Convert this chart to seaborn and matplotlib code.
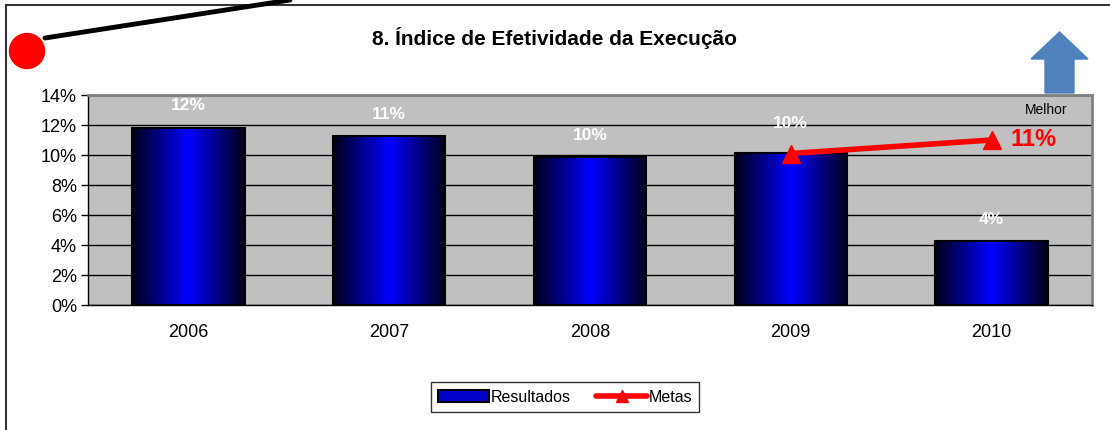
import matplotlib.pyplot as plt
import matplotlib.patches as mpatches
from matplotlib.lines import Line2D
from matplotlib.colors import LinearSegmentedColormap
import numpy as np
import pandas as pd
import seaborn as sns

anos = ['2006', '2007', '2008', '2009', '2010']
resultados = [11.8, 11.25, 9.85, 10.15, 4.25]
rotulos = ['12%', '11%', '10%', '10%', '4%']
metas_anos = ['2009', '2010']
metas = [10.1, 11.0]
yticks = [0, 2, 4, 6, 8, 10, 12, 14]

sns.set_style('white')
plt.rcParams['font.family'] = ['Liberation Sans', 'DejaVu Sans']
plt.rcParams['text.color'] = 'black'
plt.rcParams['xtick.color'] = 'black'
plt.rcParams['ytick.color'] = 'black'

fig = plt.figure(figsize=(11.1, 4.3), dpi=100)
ax = fig.add_axes([88 / 1110, 1 - 305 / 430, 1004 / 1110, 210 / 430])
ax.set_facecolor('#c0c0c0')

df = pd.DataFrame({'ano': anos, 'valor': resultados})
sns.barplot(data=df, x='ano', y='valor', color='#0000ff', width=0.56,
            edgecolor='black', linewidth=1.5, ax=ax, zorder=3)

# gradiente horizontal preto-azul-preto nas barras
cmap = LinearSegmentedColormap.from_list('grad', ['#000018', '#0000ff', '#000018'])
grad = np.linspace(0, 1, 256).reshape(1, -1)
for p in ax.patches:
    x0, y0 = p.get_x(), p.get_y()
    w, h = p.get_width(), p.get_height()
    im = ax.imshow(grad, cmap=cmap, extent=[x0, x0 + w, y0, y0 + h],
                   aspect='auto', zorder=3.5, interpolation='bicubic')
    im.set_clip_path(p)
    p.set_facecolor('none')
    p.set_zorder(4)

# rotulos de dados
for i, (v, r) in enumerate(zip(resultados, rotulos)):
    off = 21 if anos[i] == '2009' else 16
    ax.annotate(r, (i, v), xytext=(0, off), textcoords='offset points',
                ha='center', va='center', color='white', fontsize=12.5,
                fontweight='bold', zorder=6)

# metas
mx = [anos.index(a) for a in metas_anos]
ax.plot(mx, metas, color='red', linewidth=4, marker='^', markersize=13,
        zorder=5)
ax.annotate('11%', (mx[-1], metas[-1]), xytext=(30, 0),
            textcoords='offset points', ha='center', va='center',
            color='red', fontsize=17, fontweight='bold', zorder=6)

ax.set_xlim(-0.5, len(anos) - 0.5)
ax.set_ylim(0, 14)
ax.set_yticks(yticks)
ax.set_yticklabels([f'{t}%' for t in yticks], fontsize=13)
ax.yaxis.grid(True, color='black', linewidth=1)
ax.set_axisbelow(True)
ax.set_xlabel('')
ax.set_ylabel('')
ax.set_xticks(range(len(anos)))
ax.set_xticklabels(anos, fontsize=13)
ax.set_xticks(np.arange(-0.5, len(anos)), minor=True)
ax.tick_params(axis='x', which='major', length=0, pad=14)
ax.tick_params(axis='x', which='minor', length=6, width=1, direction='out',
               color='black')
ax.tick_params(axis='y', length=5, width=1, direction='out', color='black',
               left=True, pad=3)
for s in ['left', 'bottom']:
    ax.spines[s].set_color('black')
    ax.spines[s].set_linewidth(1)
for s in ['top', 'right']:
    ax.spines[s].set_color('#808080')
    ax.spines[s].set_linewidth(2)

ax.text(0.954, 0.93, 'Melhor', transform=ax.transAxes, ha='center',
        va='center', fontsize=10)

# titulo
fig.text(555 / 1110, 1 - 38 / 430, '8. Índice de Efetividade da Execução',
         ha='center', va='center', fontsize=15, fontweight='bold')

# seta "melhor"
fig.patches.append(mpatches.FancyArrow(
    1059.5 / 1110, 1 - 93 / 430, 0, 61 / 430, width=29 / 1110,
    head_width=57 / 1110, head_length=27 / 430, length_includes_head=True,
    color='#4f81bd', transform=fig.transFigure, figure=fig))

# moldura, circulo e linha do canto
fig.patches.append(mpatches.Rectangle(
    (6 / 1110, -0.1), 1.2, 1 - 5 / 430 + 0.1, fill=False, edgecolor='#333333',
    linewidth=1.5, transform=fig.transFigure, figure=fig))
fig.lines.append(Line2D([45 / 1110, 290 / 1110], [1 - 38 / 430, 1.0],
                        color='black', linewidth=3.5,
                        transform=fig.transFigure, figure=fig))
fig.patches.append(mpatches.Ellipse(
    (27 / 1110, 1 - 51 / 430), 35 / 1110, 35 / 430, color='red',
    transform=fig.transFigure, figure=fig))

# legenda
h_res = mpatches.Patch(facecolor='#0000c8', edgecolor='black', linewidth=1.5,
                       label='Resultados')
h_met = Line2D([], [], color='red', linewidth=4, marker='^', markersize=9,
               label='Metas')
fig.legend(handles=[h_res, h_met], loc='center', ncol=2,
           bbox_to_anchor=(565 / 1110, 1 - 397 / 430), frameon=True,
           fancybox=False, edgecolor='black', fontsize=11.5, handlelength=3.2,
           handletextpad=0.1, columnspacing=1.6, borderpad=0.45)

fig.savefig('out.png', dpi=100)
